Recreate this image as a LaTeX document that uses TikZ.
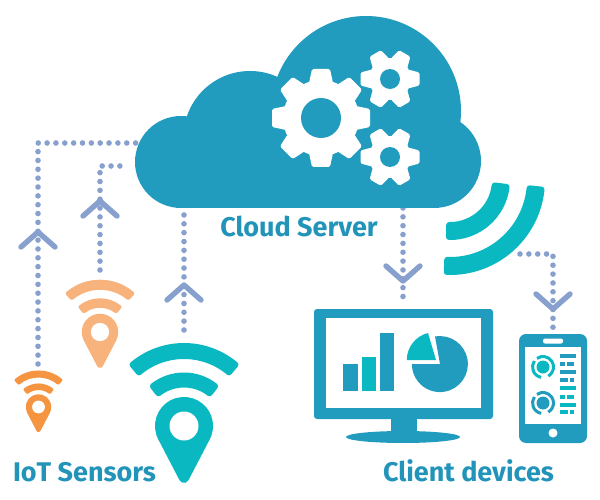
\documentclass[tikz,border=0pt]{standalone}
\usepackage{fontspec}
\setmainfont{Fira Sans}
\usepackage{xcolor}
\usetikzlibrary{positioning}
\definecolor{cloudblue}{HTML}{219CBE}
\definecolor{labelblue}{HTML}{2394B9}
\definecolor{wifiteal}{HTML}{0AB8C2}
\definecolor{dotblue}{HTML}{87A0CE}
\definecolor{pinlight}{HTML}{F8B27B}
\definecolor{pindark}{HTML}{F59542}
\newcommand{\wifiband}[7]{%
  \filldraw[shift={(#1,#2)}, line width=#7, line join=round]
    (#5:#4) arc[start angle=#5, end angle=#6, radius=#4]
    -- (#6:#3) arc[start angle=#6, end angle=#5, radius=#3] -- cycle;}
\newcommand{\sensor}[4]{%
  \begin{scope}[shift={(#1,#2)}, scale=#3, fill=#4, draw=#4]
    \fill (27.5:29) -- ([shift={(0,52)}]27.5:5) arc[start angle=27.5, end angle=152.5, radius=5]
      -- (152.5:29) arc[start angle=152.5, end angle=387.5, radius=29] -- cycle;
    \fill[white] (0,0) circle (14.5);
    \wifiband{0}{0}{70}{80}{230}{310}{6pt*#3}
    \wifiband{0}{0}{41.5}{50.5}{232}{308}{6pt*#3}
  \end{scope}}
\newcommand{\gear}[7]{%
  \begin{scope}[shift={(#1,#2)}]
    \fill[white] (0,0) circle (#5);
    \foreach \a in {0,#3,...,359} {
      \fill[white, rotate=\a, rounded corners=1.5pt] (#5-3,-#7-3) -- (#4,-#7) -- (#4,#7) -- (#5-3,#7+3) -- cycle;
    }
    \fill[cloudblue] (0,0) circle (#6);
  \end{scope}}
\newcommand{\chevup}[1]{\draw[chev] ([shift={(-17,15)}]#1) -- (#1) -- ([shift={(17,15)}]#1);}
\newcommand{\chevdown}[1]{\draw[chev] ([shift={(-17,-15)}]#1) -- (#1) -- ([shift={(17,-15)}]#1);}
\newcommand{\dial}[3]{%
  \fill[#3] (#1,#2) circle (6.5);
  \draw[#3, line width=3pt] ([shift={(#1,#2)}]100:10.5) arc[start angle=100, end angle=215, radius=10.5];
  \draw[#3, line width=3pt] ([shift={(#1,#2)}]235:10.5) arc[start angle=235, end angle=420, radius=10.5];}
\begin{document}
\begin{tikzpicture}[
    x=1pt, y=1pt, yscale=-1,
    dotline/.style={draw=dotblue, line width=5.6pt, line cap=round, dash pattern=on 0pt off 8.85pt},
    chev/.style={draw=dotblue, line width=5.4pt, line cap=round, line join=round},
    lbl/.style={text=labelblue, font=\fontsize{27}{27}\selectfont\bfseries, anchor=base, inner sep=0pt}
]
\useasboundingbox (0,0) rectangle (600,500);

\coordinate (sensorA) at (38,364);
\coordinate (cloudA) at (137,143);
\coordinate (sensorB) at (100,270);
\coordinate (cloudB) at (128,166);
\coordinate (sensorC) at (184,330);
\coordinate (cloudC) at (184,208);
\coordinate (cloudD) at (403,208);
\coordinate (monitorTop) at (403,300);
\coordinate (waveEnd) at (520,254);
\coordinate (phoneTop) at (553,329);

\draw[dotline] (sensorA) |- (cloudA);
\draw[dotline] (sensorB) |- (cloudB);
\draw[dotline] (sensorC) -- (cloudC);
\draw[dotline] (cloudD) -- (monitorTop);
\draw[dotline] (waveEnd) -| (phoneTop);

\coordinate (chevA) at (38,232);
\coordinate (chevB) at (100,201);
\coordinate (chevC) at (184,285);
\coordinate (chevD) at (403,281);
\coordinate (chevE) at (553,309);
\chevup{chevA}
\chevup{chevB}
\chevup{chevC}
\chevdown{chevD}
\chevdown{chevE}

\fill[cloudblue] (181,162) circle (46);
\fill[cloudblue] (250,137.6) circle (66.6);
\fill[cloudblue] (366,111) circle (95);
\fill[cloudblue] (434,161) circle (47);
\fill[cloudblue] (181,150) rectangle (434,208);

\gear{321}{118}{45}{49}{38}{20}{9}
\gear{390}{79}{60}{29.5}{21}{10}{6.5}
\gear{390}{157}{60}{29.5}{21}{10}{6.5}

\begin{scope}[fill=wifiteal, draw=wifiteal]
\wifiband{450}{180}{80}{92}{6}{92}{6pt}
\wifiband{450}{180}{45}{57}{7}{91}{6pt}
\end{scope}

\sensor{38.5}{407}{0.44}{pindark}
\sensor{100}{332}{0.63}{pinlight}
\sensor{184}{426}{1}{wifiteal}

\fill[cloudblue, rounded corners=3pt] (314,309) rectangle (493,419);
\fill[white] (326,318) rectangle (481,408);
\fill[cloudblue] (391,419) rectangle (417,433);
\fill[cloudblue] (403,437) ellipse (57 and 6);
\fill[cloudblue] (343,364) rectangle (358,391);
\fill[wifiteal] (362,357) rectangle (376,391);
\fill[cloudblue] (380,333) rectangle (394,391);
\fill[cloudblue] (440,364) -- (435,336.5) arc[start angle=260, end angle=540, radius=28] -- cycle;
\fill[wifiteal] (436,360) -- (428,333) arc[start angle=256, end angle=180, radius=28] -- cycle;

\fill[cloudblue, rounded corners=7pt] (519,334) rectangle (587,443);
\fill[white] (525,347) rectangle (581,424);
\fill[white, rounded corners=2pt] (543,338.5) rectangle (563,343.5);
\fill[white] (553,433) circle (4.5);
\dial{543}{367}{wifiteal}
\dial{543}{403}{cloudblue}
\foreach \y/\xa in {356/574, 364/565, 372/574, 380/568} {
  \fill[cloudblue] (560,\y-1.6) rectangle (\xa,\y+1.6);
  \fill[cloudblue] (\xa+2,\y-1.6) rectangle (574,\y+1.6);
}
\foreach \y/\xa in {388/574, 397/565, 405/574, 412/568} {
  \fill[wifiteal] (560,\y-1.6) rectangle (\xa,\y+1.6);
  \fill[wifiteal] (\xa+2,\y-1.6) rectangle (574,\y+1.6);
}

\node[lbl] (cloudLabel) at (299,236) {Cloud Server};
\node[lbl] (sensorLabel) at (84.5,481) {IoT Sensors};
\node[lbl] (clientLabel) at (468.5,481) {Client devices};
\end{tikzpicture}
\end{document}
